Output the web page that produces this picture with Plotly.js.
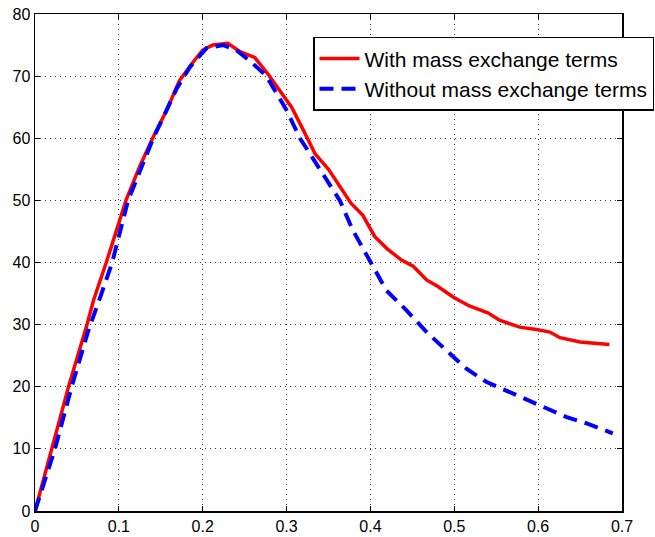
<!DOCTYPE html>
<html>
<head>
<meta charset="utf-8">
<script src="https://cdn.plot.ly/plotly-3.0.1.min.js"></script>
<style>html,body{margin:0;padding:0;background:#fff;}</style>
</head>
<body>
<div id="chart" style="width:655px;height:537px;"></div>
<script>
const seriesNames = ["With mass exchange terms", "Without mass exchange terms"];

const withX = [0, 0.02, 0.04, 0.062, 0.07, 0.085, 0.1085, 0.125, 0.142, 0.157, 0.172, 0.187, 0.2, 0.212, 0.23, 0.245, 0.262, 0.278, 0.292, 0.306, 0.32, 0.334, 0.35, 0.362, 0.377, 0.391, 0.405, 0.42, 0.437, 0.451, 0.467, 0.481, 0.499, 0.518, 0.54, 0.554, 0.578, 0.598, 0.614, 0.626, 0.65, 0.685];
const withY = [0, 10, 20, 30, 34, 40, 50, 55.5, 60.5, 64.5, 69.2, 72.0, 74.2, 75.0, 75.3, 73.9, 73.0, 70.3, 67.7, 65.0, 61.3, 57.5, 55.0, 52.5, 49.5, 47.6, 44.2, 42.2, 40.4, 39.4, 37.2, 36.1, 34.4, 33.0, 31.9, 30.7, 29.6, 29.2, 28.8, 27.9, 27.2, 26.8];

const withoutX = [0, 0.0238, 0.0437, 0.0635, 0.078, 0.092, 0.111, 0.125, 0.141, 0.153, 0.169, 0.185, 0.2046, 0.2245, 0.24, 0.26, 0.276, 0.29, 0.3, 0.316, 0.336, 0.3635, 0.379, 0.399, 0.419, 0.443, 0.467, 0.503, 0.5145, 0.538, 0.568, 0.598, 0.634, 0.658, 0.689];
const withoutY = [0, 10, 20, 29, 34.5, 40, 50, 54.5, 60, 63.4, 68.0, 71.5, 74.5, 75.0, 74.2, 72.0, 70.0, 66.8, 64.5, 60.0, 55.9, 50.0, 45.2, 40.3, 35.5, 32.3, 28.8, 24.3, 22.9, 20.8, 19.0, 17.3, 15.1, 14.1, 12.5];

const xTicks = [0, 0.1, 0.2, 0.3, 0.4, 0.5, 0.6, 0.7];
const yTicks = [0, 10, 20, 30, 40, 50, 60, 70, 80];

const traces = [
  {x: withX, y: withY, name: seriesNames[0], mode: 'lines', type: 'scatter',
   line: {color: '#ff0000', width: 3.5}},
  {x: withoutX, y: withoutY, name: seriesNames[1], mode: 'lines', type: 'scatter',
   line: {color: '#0000ff', width: 4, dash: '14px,8px'}}
];

const axisCommon = {
  showline: true, linecolor: '#000', linewidth: 1.5, mirror: 'ticks',
  ticks: 'inside', ticklen: 5, tickwidth: 1, tickcolor: '#000',
  showgrid: true, gridcolor: '#333', gridwidth: 1, griddash: '1px,4px',
  zeroline: false,
  tickfont: {family: 'Liberation Sans, Arial, sans-serif', size: 16, color: '#000'}
};

const layout = {
  width: 655, height: 537,
  margin: {l: 35, r: 33, t: 14, b: 26, autoexpand: false},
  paper_bgcolor: '#fff', plot_bgcolor: '#fff',
  showlegend: true,
  legend: {
    x: 0.4736, y: 0.954, xanchor: 'left', yanchor: 'top',
    bgcolor: '#fff', bordercolor: '#000', borderwidth: 1.5,
    font: {family: 'Liberation Sans, Arial, sans-serif', size: 21, color: '#000'},
    itemwidth: 40,
    tracegroupgap: 0
  },
  xaxis: Object.assign({}, axisCommon, {range: [0, 0.7], tickvals: xTicks, ticktext: xTicks.map(String)}),
  yaxis: Object.assign({}, axisCommon, {range: [0, 80], tickvals: yTicks, ticktext: yTicks.map(String)})
};

Plotly.newPlot('chart', traces, layout, {displayModeBar: false, staticPlot: true});
</script>
</body>
</html>
